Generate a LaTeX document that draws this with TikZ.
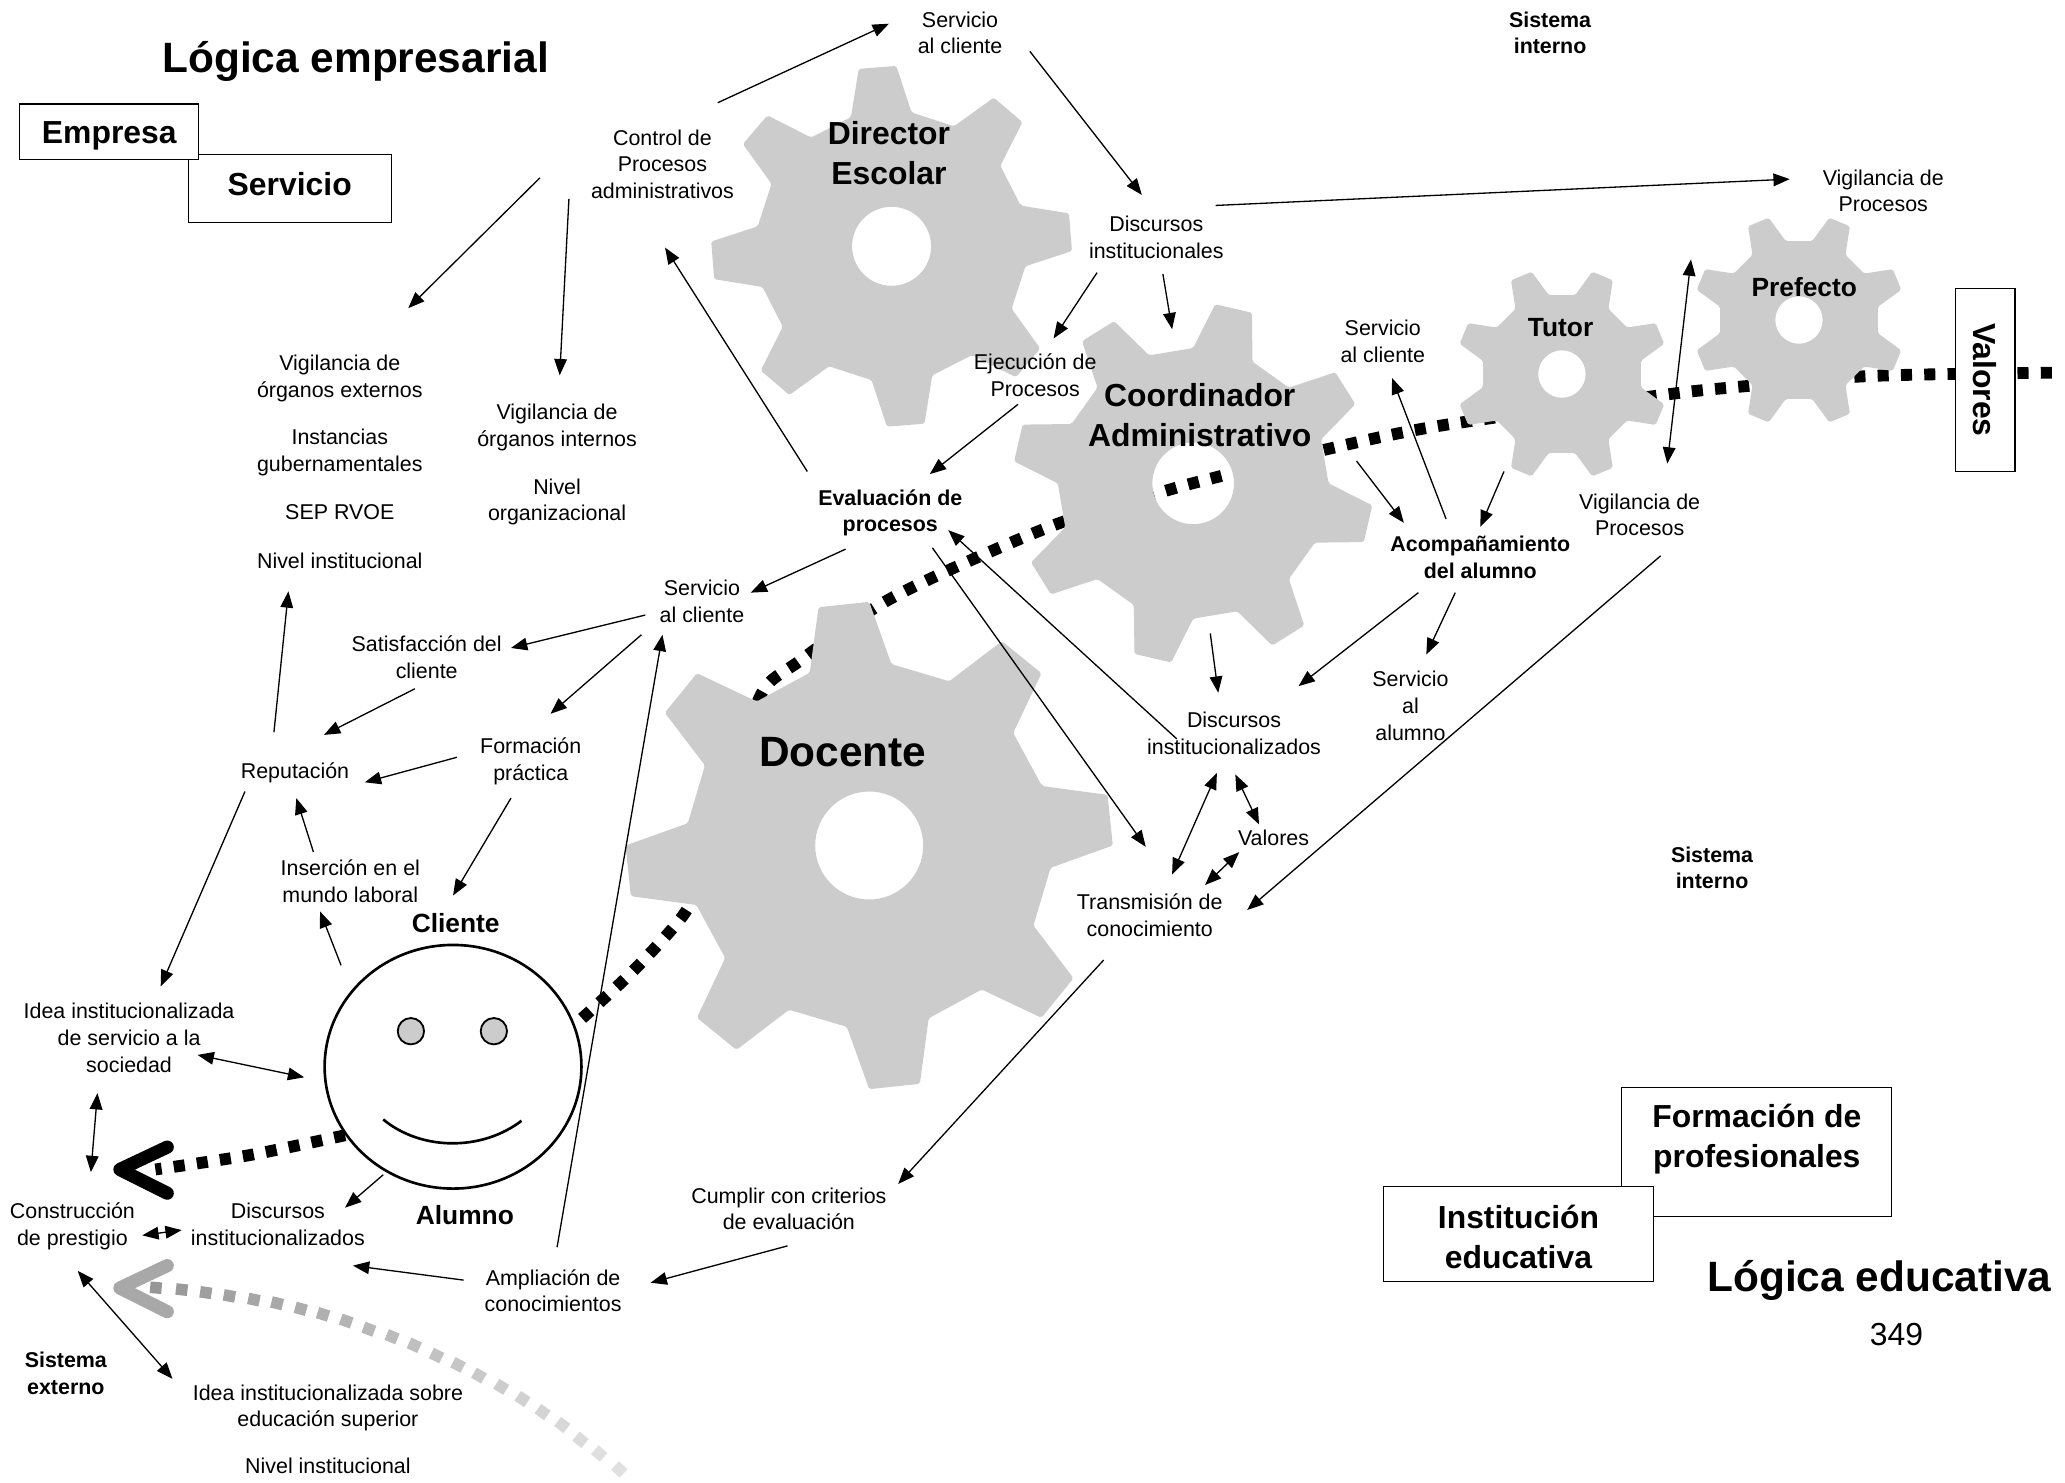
\documentclass[tikz,border=0pt]{standalone}
\usepackage{fontspec}
\setmainfont{Liberation Sans}
\usetikzlibrary{arrows.meta,shapes.geometric}
\definecolor{gearc}{gray}{0.80}
\tikzset{
  lbl/.style={align=center,inner sep=0pt,font=\fontsize{8.13}{10.1}\selectfont},
  blbl/.style={align=center,inner sep=0pt,font=\fontsize{8.13}{10.1}\selectfont\bfseries},
  mid/.style={align=center,inner sep=0pt,font=\fontsize{10}{12}\selectfont\bfseries},
  big/.style={align=center,inner sep=0pt,font=\fontsize{12.1}{15.2}\selectfont\bfseries},
  huge/.style={align=center,inner sep=0pt,font=\fontsize{16.1}{20}\selectfont\bfseries},
  boxn/.style={draw=black,fill=white,line width=0.45pt,inner sep=0pt,align=center,font=\fontsize{12.1}{15.2}\selectfont\bfseries},
  conn/.style={line width=0.5pt,-{Triangle[length=6.2pt,width=4.8pt]}},
  both/.style={line width=0.5pt,{Triangle[length=6.2pt,width=4.8pt]}-{Triangle[length=6.2pt,width=4.8pt]}},
  dots/.style={line width=4.5pt,dash pattern=on 4.2pt off 4.65pt},
  chev/.style={line width=5pt,line cap=round,line join=round},
  gearfill/.style={fill=gearc,even odd rule,rounded corners=0.7pt}
}
\newcommand{\gearshape}[5]{% cx, cy, R, rotation, hole radius
  \begin{scope}[shift={(#1,#2)}]
    \pgfmathsetmacro{\rr}{0.75*#3}
    \fill[gearfill] ({#4-13}:\rr)
      \foreach \k in {0,...,7}{
        -- ({#4+45*\k-13}:\rr) -- ({#4+45*\k-6}:#3) -- ({#4+45*\k+6}:#3) -- ({#4+45*\k+13}:\rr)
      } -- cycle
      (0,0) circle [radius=#5];
  \end{scope}
}
\begin{document}
\begin{tikzpicture}[x=0.5pt,y=-0.5pt]
\useasboundingbox (0,0) rectangle (1568,1126);
\fill[white] (0,0) rectangle (1568,1126);

% dotted curves beneath the gears
\draw[dots] plot[smooth,tension=0.5] coordinates {(1558,283) (1420,285.5) (1317,294) (1258,300.5) (1095,323) (1008,341) (923,362.5) (884,373) (797,400) (679,453) (607,502) (578,527) (557,596) (551,633) (536,663) (518,696) (480,738) (440,775)};

% gears
\gearshape{677}{187}{137}{-4.5}{30}
\gearshape{906}{367}{137}{13}{31}
\gearshape{660}{642}{185}{-6}{41}
\gearshape{1186}{284}{81}{22.5}{18}
\gearshape{1366}{243}{81}{22.5}{18}

% arrow to the left from the face
\draw[dots] plot[smooth] coordinates {(262,862) (190,877) (118,888)};
\draw[chev] (127,871) -- (91,888) -- (127,906);

% fading arrow
\foreach \px/\py [count=\i] in {118.4/977.8,138/979.2,156.3/981.5,174.2/984,192.8/986.8,210.4/989.6,228.4/993.8,245.3/998,262.9/1003.1,280.1/1009.3,297.7/1015,314.6/1021.5,331.5/1029.3,347.8/1036.4,363.7/1044.5,380.6/1053,396.8/1062.3,412/1072.2,426.9/1082,440.8/1093.3,455/1103.7,470.2/1115.8}{
  \pgfmathsetmacro{\gv}{max(12,42-1.4*\i)}
  \pgfmathsetmacro{\ang}{-(3+1.8*\i)}
  \fill[black!\gv,shift={(\px,\py)},rotate=\ang] (-2.2pt,-2.2pt) rectangle (2.2pt,2.2pt);
}
\draw[chev,draw=black!34] (127,961) -- (91,978) -- (127,996);

% framed labels
\node[boxn,minimum width=77pt,minimum height=26pt] (servbox) at (220,143) {\raisebox{3pt}{Servicio}};
\node[boxn,minimum width=68pt,minimum height=21pt] (empbox) at (83,100) {};
\node[big] (emptxt) at (83,103) {Empresa};
\node[boxn,minimum width=102.5pt,minimum height=49pt] (formbox) at (1333.5,875) {};
\node[big] (formtxt) at (1334,865) {Formación de\\profesionales};
\node[boxn,minimum width=102.5pt,minimum height=36pt] (instbox) at (1153,937) {};
\node[big] (insttxt) at (1153,939) {Institución\\educativa};
\node[boxn,rotate=-90,minimum width=69.5pt,minimum height=22.5pt] (valbox) at (1507.5,288.5) {Valores};

% titles
\node[huge] (logemp) at (270,47) {Lógica empresarial};
\node[huge] (logedu) at (1427,972) {Lógica educativa};
\node[inner sep=0pt,font=\fontsize{12.1}{15}\selectfont] (pagenum) at (1440,1013) {349};

% gear names
\node[big] (dir) at (675,116) {Director\\Escolar};
\node[big] (coord) at (911,315) {Coordinador\\Administrativo};
\node[huge] (doc) at (640,571) {Docente};
\node[mid] (tutor) at (1185,249) {Tutor};
\node[mid] (pref) at (1370,218) {Prefecto};

% text labels
\node[lbl] (serv1) at (729,25) {Servicio\\al cliente};
\node[lbl] (ctrl) at (503,124.5) {Control de\\Procesos\\administrativos};
\node[lbl] (disc1) at (878,180) {Discursos\\institucionales};
\node[lbl] (vigpr1) at (1430,145) {Vigilancia de\\Procesos};
\node[blbl] (sint1) at (1177,25) {Sistema\\interno};
\node[lbl] (ejec) at (786,285) {Ejecución de\\Procesos};
\node[lbl] (vigext) at (258,287.5) {Vigilancia de\\órganos externos};
\node[lbl] (instan) at (258,343.5) {Instancias\\gubernamentales};
\node[lbl] (sep) at (258,389) {SEP RVOE};
\node[lbl] (nivinst) at (258,426) {Nivel institucional};
\node[lbl] (vigint) at (423,324.5) {Vigilancia de\\órganos internos};
\node[lbl] (nivorg) at (423,381) {Nivel\\organizacional};
\node[lbl] (serv2) at (1050,259) {Servicio\\al cliente};
\node[blbl] (eval) at (676,389.5) {Evaluación de\\procesos};
\node[blbl] (acomp) at (1124,423) {Acompañamiento\\del alumno};
\node[lbl] (vigpr2) at (1245,391) {Vigilancia de\\Procesos};
\node[lbl] (serv3) at (533,456.5) {Servicio\\al cliente};
\node[lbl] (satisf) at (324,499) {Satisfacción del\\cliente};
\node[lbl] (form) at (403,578) {Formación\\práctica};
\node[lbl] (repu) at (224,587) {Reputación};
\node[lbl] (ins) at (266,669) {Inserción en el\\mundo laboral};
\node[lbl] (discinst) at (937,557) {Discursos\\institucionalizados};
\node[lbl] (servalum) at (1071,536) {Servicio\\al\\alumno};
\node[lbl] (valores) at (967,636) {Valores};
\node[lbl] (trans) at (873,695) {Transmisión de\\conocimiento};
\node[blbl] (sint2) at (1300,659) {Sistema\\interno};
\node[mid] (cliente) at (346,701) {Cliente};
\node[mid] (alumno) at (353,923) {Alumno};
\node[lbl] (idea) at (98,788) {Idea institucionalizada\\de servicio a la\\sociedad};
\node[lbl] (constr) at (55,931) {Construcción\\de prestigio};
\node[lbl] (disc3) at (211,929.5) {Discursos\\institucionalizados};
\node[lbl] (cumplir) at (599,918) {Cumplir con criterios\\de evaluación};
\node[lbl] (ampl) at (420,980) {Ampliación de\\conocimientos};
\node[blbl] (sext) at (50,1043) {Sistema\\externo};
\node[lbl] (ideasup) at (249,1069) {Idea institucionalizada sobre\\educación superior};
\node[lbl] (nivinst2) at (249,1113) {Nivel institucional};

% face
\node[ellipse,draw=black,line width=1pt,minimum width=97.5pt,minimum height=92.5pt,inner sep=0pt] (face) at (344,810) {};
\node[circle,draw=black,fill=gearc,line width=0.7pt,minimum size=10pt,inner sep=0pt] (eyel) at (312,783) {};
\node[circle,draw=black,fill=gearc,line width=0.7pt,minimum size=10pt,inner sep=0pt] (eyer) at (375,783) {};
\draw[line width=1pt] (291,850) .. controls (320,874) and (366,874) .. (396,851);

% connectors
\draw[conn] ([shift={(42,-46.5)}]ctrl.center) -- ([shift={(-54,-7)}]serv1.center);
\draw[conn] ([shift={(53,14)}]serv1.center) -- ([shift={(-11,-32)}]disc1.center);
\draw[conn] ([shift={(45,-24)}]disc1.center) -- ([shift={(-71,-9)}]vigpr1.center);
\draw[conn] ([shift={(5,28)}]disc1.center) -- ([shift={(-21,-65)}]coord.center);
\draw[conn] ([shift={(-45,27)}]disc1.center) -- ([shift={(14,-28)}]ejec.center);
\draw[conn] ([shift={(-13,22)}]ejec.center) -- ([shift={(30,-29.5)}]eval.center);
\draw[conn] ([shift={(-63,-31.5)}]eval.center) -- ([shift={(2,63.5)}]ctrl.center);
\draw[conn] ([shift={(-93,10.5)}]ctrl.center) -- ([shift={(52,-53.5)}]vigext.center);
\draw[conn] ([shift={(-71,26.5)}]ctrl.center) -- ([shift={(2,-39.5)}]vigint.center);
\draw[conn] ([shift={(-34,27.5)}]eval.center) -- ([shift={(37,-6.5)}]serv3.center);
\draw[conn] ([shift={(-43,10.5)}]serv3.center) -- ([shift={(64,-7)}]satisf.center);
\draw[conn] ([shift={(-46,25.5)}]serv3.center) -- ([shift={(15,-36)}]form.center);
\draw[conn] ([shift={(-9,24)}]satisf.center) -- ([shift={(22,-29)}]repu.center);
\draw[conn] ([shift={(-56,-3)}]form.center) -- ([shift={(53,7)}]repu.center);
\draw[conn] ([shift={(-15,28)}]form.center) -- ([shift={(-2,-21)}]cliente.center);
\draw[conn] ([shift={(-16,-31)}]repu.center) -- ([shift={(-39,23)}]nivinst.center);
\draw[conn] ([shift={(-38,14)}]repu.center) -- ([shift={(24,-39)}]idea.center);
\draw[conn] ([shift={(-28,-22)}]ins.center) -- ([shift={(1,19)}]repu.center);
\draw[conn] ([shift={(-85,-77)}]face.center) -- ([shift={(-23,23)}]ins.center);
\draw[both] ([shift={(-113,8)}]face.center) -- ([shift={(52,13)}]idea.center);
\draw[both] ([shift={(-24,42)}]idea.center) -- ([shift={(14,-41)}]constr.center);
\draw[both] ([shift={(53,7)}]constr.center) -- ([shift={(-73,4.5)}]disc3.center);
\draw[conn] ([shift={(-53,82)}]face.center) -- ([shift={(51,-12.5)}]disc3.center);
\draw[conn] ([shift={(-68,-8)}]ampl.center) -- ([shift={(57,31.5)}]disc3.center);
\draw[conn] ([shift={(3,-33)}]ampl.center) -- ([shift={(-30,25.5)}]serv3.center);
\draw[conn] ([shift={(-1,28)}]cumplir.center) -- ([shift={(74,-6)}]ampl.center);
\draw[conn] ([shift={(-35,34)}]trans.center) -- ([shift={(83,-19)}]cumplir.center);
\draw[conn] ([shift={(32,26.5)}]eval.center) -- ([shift={(-3,-52)}]trans.center);
\draw[conn] ([shift={(-43.5,4)}]discinst.center) -- ([shift={(44,13)}]eval.center);
\draw[conn] ([shift={(16,31)}]vigpr2.center) -- ([shift={(74,-4)}]trans.center);
\draw[conn] ([shift={(8,166)}]coord.center) -- ([shift={(-12,-31)}]discinst.center);
\draw[conn] ([shift={(-47,27)}]acomp.center) -- ([shift={(49,-36)}]discinst.center);
\draw[conn] ([shift={(-19,27)}]acomp.center) -- ([shift={(12,-39)}]servalum.center);
\draw[conn] ([shift={(-26,-29)}]acomp.center) -- ([shift={(7,28)}]serv2.center);
\draw[conn] ([shift={(119,35)}]coord.center) -- ([shift={(-58,-26)}]acomp.center);
\draw[conn] ([shift={(-43,109)}]tutor.center) -- ([shift={(0,-23)}]acomp.center);
\draw[both] ([shift={(21,-39)}]vigpr2.center) -- ([shift={(-86,-21)}]pref.center);
\draw[both] ([shift={(-13,30)}]discinst.center) -- ([shift={(17,-31)}]trans.center);
\draw[both] ([shift={(1,31)}]discinst.center) -- ([shift={(-11,-10)}]valores.center);
\draw[both] ([shift={(-26,11)}]valores.center) -- ([shift={(42,-23)}]trans.center);
\draw[both] ([shift={(4,34)}]constr.center) -- ([shift={(-118,-22)}]ideasup.center);
\end{tikzpicture}
\end{document}
